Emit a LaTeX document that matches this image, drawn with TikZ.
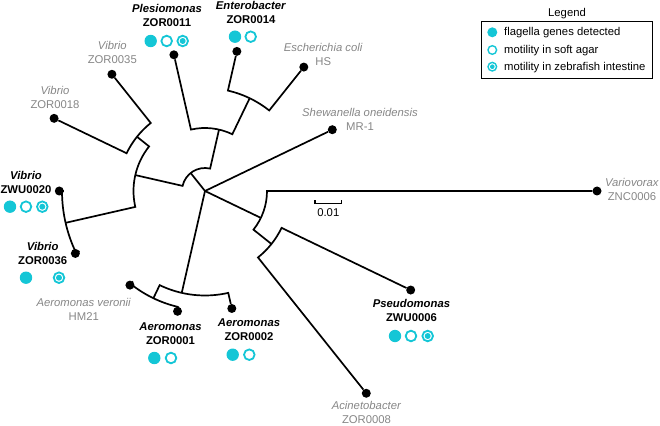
\documentclass[tikz,border=0pt]{standalone}
\usepackage{fontspec}
\setmainfont{Liberation Sans}
\definecolor{flagcyan}{RGB}{20,198,214}
\definecolor{labelgray}{RGB}{134,134,134}

\begin{document}
\begin{tikzpicture}[x=1pt,y=1pt,font=\fontsize{11.3}{14}\selectfont]
\tikzset{
  leafdot/.style={circle,fill=black,inner sep=0pt,minimum size=9pt},
  branch/.style={draw=black,line width=1.7pt,line join=miter},
  isolate/.style={align=center,inner sep=0pt,font=\fontsize{11.3}{14}\selectfont\bfseries},
  refstrain/.style={align=center,inner sep=0pt,text=labelgray},
  flagdot/.style={circle,fill=flagcyan,inner sep=0pt,minimum size=12.4pt},
  agarring/.style={circle,draw=flagcyan,line width=1.8pt,inner sep=0pt,minimum size=10.6pt},
  gutring/.style={agarring,path picture={\fill[flagcyan] (path picture bounding box.center) circle (#1);}},
  gutring/.default=3pt,
  legtext/.style={anchor=base west,inner sep=0pt}
}
\useasboundingbox (-205,-234) rectangle (455,191);
% leaves
\node[leafdot] (vario) at (0:392) {};
\node[leafdot] (shew) at (25.71:141.3) {};
\node[leafdot] (ecoli) at (51.43:158.5) {};
\node[leafdot] (entero) at (77.14:143.2) {};
\node[leafdot] (plesio) at (102.86:139.7) {};
\node[leafdot] (v35) at (128.57:149.3) {};
\node[leafdot] (v18) at (154.29:167.5) {};
\node[leafdot] (v20) at (180:145.7) {};
\node[leafdot] (v36) at (205.71:143.9) {};
\node[leafdot] (veronii) at (231.43:120.4) {};
\node[leafdot] (aer1) at (257.14:123.4) {};
\node[leafdot] (aer2) at (282.86:120.5) {};
\node[leafdot] (acin) at (308.57:258.7) {};
\node[leafdot] (pseudo) at (334.29:228.3) {};
% inner nodes
\coordinate (root) at (0,0);
\coordinate (n_b) at (128.57:23);
\coordinate (n_c) at (77.14:63);
\coordinate (n_ee) at (64.29:103);
\coordinate (n_d) at (167.14:71.5);
\coordinate (n_v1) at (141.43:87);
\coordinate (n_v2) at (192.86:143);
\coordinate (n_a) at (257.14:104.5);
\coordinate (n_av) at (244.29:119);
\coordinate (n_x) at (334.29:62);
\coordinate (n_pa) at (321.43:85);
% branches
\draw[branch] (root) -- (shew);
\draw[branch] (root) -- (n_b);
\draw[branch] (root) -- (n_a);
\draw[branch] (root) -- (n_x);
\draw[branch] (n_c) -- (77.14:23) arc[start angle=77.14,end angle=167.14,radius=23] -- (n_d);
\draw[branch] (plesio) -- (102.86:63) arc[start angle=102.86,end angle=64.29,radius=63] -- (n_ee);
\draw[branch] (entero) -- (77.14:103) arc[start angle=77.14,end angle=51.43,radius=103] -- (ecoli);
\draw[branch] (n_v1) -- (141.43:71.5) arc[start angle=141.43,end angle=192.86,radius=71.5] -- (n_v2);
\draw[branch] (v35) -- (128.57:87) arc[start angle=128.57,end angle=154.29,radius=87] -- (v18);
\draw[branch] (v20) -- (180:143) arc[start angle=180,end angle=205.71,radius=143] -- (v36);
\draw[branch] (n_av) -- (244.29:104.5) arc[start angle=244.29,end angle=282.86,radius=104.5] -- (aer2);
\draw[branch] (veronii) -- (231.43:119) arc[start angle=231.43,end angle=257.14,radius=119] -- (aer1);
\draw[branch] (acin) -- (308.57:85) arc[start angle=308.57,end angle=334.29,radius=85] -- (pseudo);
\draw[branch] (n_pa) -- (321.43:62) arc[start angle=321.43,end angle=360,radius=62] -- (vario);
% labels
\node[isolate] (plesio_lbl) at (-38,175.4) {\textit{Plesiomonas}\\ZOR0011};
\node[isolate] (entero_lbl) at (46,178.8) {\textit{Enterobacter}\\ZOR0014};
\node[refstrain] (ecoli_lbl) at (118.3,136.4) {\textit{Escherichia coli}\\HS};
\node[refstrain] (shew_lbl) at (155,71.4) {\textit{Shewanella oneidensis}\\MR-1};
\node[refstrain] (vario_lbl) at (427,1.4) {\textit{Variovorax}\\ZNC0006};
\node[refstrain] (v35_lbl) at (-92.7,138.7) {\textit{Vibrio}\\ZOR0035};
\node[refstrain] (v18_lbl) at (-150,94) {\textit{Vibrio}\\ZOR0018};
\node[isolate] (v20_lbl) at (-179,9) {\textit{Vibrio}\\ZWU0020};
\node[isolate] (v36_lbl) at (-162.3,-62.3) {\textit{Vibrio}\\ZOR0036};
\node[refstrain] (veronii_lbl) at (-121.2,-118) {\textit{Aeromonas veronii}\\HM21};
\node[isolate] (aer1_lbl) at (-34.5,-142.3) {\textit{Aeromonas}\\ZOR0001};
\node[isolate] (aer2_lbl) at (44,-139) {\textit{Aeromonas}\\ZOR0002};
\node[isolate] (pseudo_lbl) at (206.5,-119.5) {\textit{Pseudomonas}\\ZWU0006};
\node[refstrain] (acin_lbl) at (161.5,-221.6) {\textit{Acinetobacter}\\ZOR0008};
% motility marks
\node[flagdot] (plesio_f) at (-54.3,150) {};
\node[agarring] (plesio_s) at (-38.3,150) {};
\node[gutring] (plesio_z) at (-22.3,150) {};
\node[flagdot] (entero_f) at (30,154.3) {};
\node[agarring] (entero_s) at (45.7,154.3) {};
\node[flagdot] (v20_f) at (-195,-15.7) {};
\node[agarring] (v20_s) at (-179,-15.7) {};
\node[gutring] (v20_z) at (-162.7,-15.7) {};
\node[flagdot] (v36_f) at (-179,-86.7) {};
\node[gutring] (v36_z) at (-146,-86.7) {};
\node[flagdot] (aer1_f) at (-50.7,-167) {};
\node[agarring] (aer1_s) at (-34,-167) {};
\node[flagdot] (aer2_f) at (27.7,-163.7) {};
\node[agarring] (aer2_s) at (44.3,-163.7) {};
\node[flagdot] (pseudo_f) at (190,-145) {};
\node[agarring] (pseudo_s) at (206,-145) {};
\node[gutring] (pseudo_z) at (222.7,-145) {};
% scale bar
\draw[line width=1.2pt] (110,-12.3) -- (136.7,-12.3);
\draw[line width=1.2pt] (110,-9.3) -- (110,-13.2);
\draw[line width=1.2pt] (136.7,-9.3) -- (136.7,-13.2);
\node[anchor=base,inner sep=0pt] (scale_lbl) at (123.3,-25.7) {0.01};
% legend
\node[inner sep=0pt] (leg_title) at (362,177.2) {Legend};
\node[draw,line width=1pt,minimum width=171pt,minimum height=57.3pt,inner sep=0pt] (leg_box) at (362.2,140.65) {};
\node[flagdot,minimum size=10pt] (leg_f) at (287.3,158.7) {};
\node[agarring,minimum size=8.6pt,line width=1.4pt] (leg_s) at (287.3,141) {};
\node[gutring=2.3pt,minimum size=8.6pt,line width=1.4pt] (leg_z) at (287.3,124.3) {};
\node[legtext] (leg_f_txt) at (299,155) {flagella genes detected};
\node[legtext] (leg_s_txt) at (299,137.3) {motility in soft agar};
\node[legtext] (leg_z_txt) at (299,120.6) {motility in zebrafish intestine};
\end{tikzpicture}
\end{document}
